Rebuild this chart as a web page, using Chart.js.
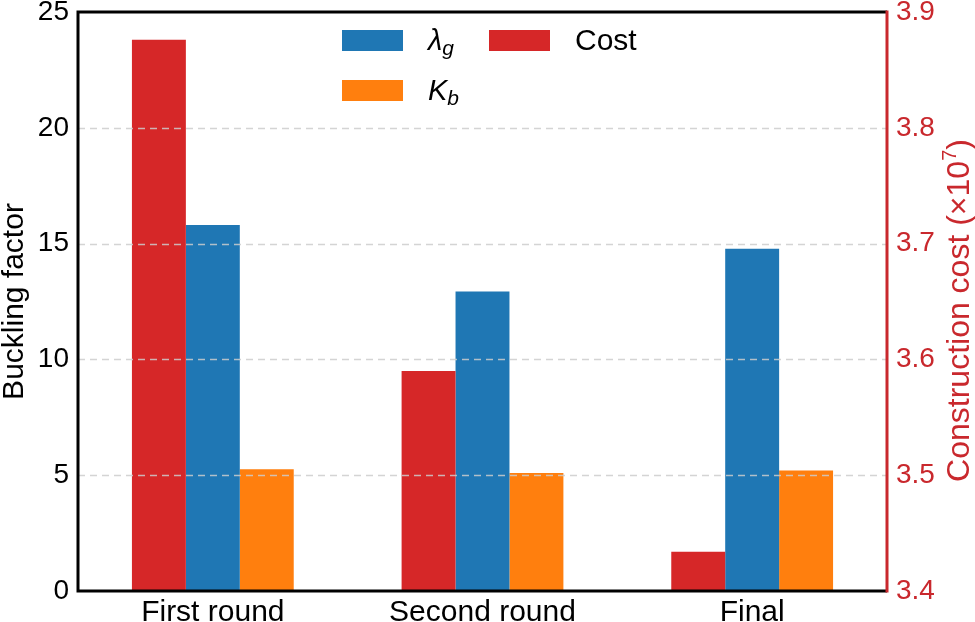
<!DOCTYPE html>
<html>
<head>
<meta charset="utf-8">
<script src="https://cdn.jsdelivr.net/npm/chart.js@4"></script>
<style>
	html, body { margin: 0; padding: 0; background: #fff; }
	#wrap { width: 975px; height: 622px; }
</style>
</head>
<body>
<div id="wrap"><canvas id="bucklingChart"></canvas></div>
<script>
const categories = ["First round", "Second round", "Final"];
const costValues = [3.876, 3.59, 3.434];
const lambdaValues = [15.8, 12.93, 14.78];
const kbValues = [5.26, 5.09, 5.2];
const leftTicks = [0, 5, 10, 15, 20, 25];
const rightTicks = [3.4, 3.5, 3.6, 3.7, 3.8, 3.9];

const blue = "#1f77b4";
const orange = "#ff7f0e";
const red = "#d62728";
const axisRed = "#c9282d";
const fontFamily = "'Liberation Sans', Arial, sans-serif";

const fixBox = (w, h) => (scale) => {
	if (w) scale.width = w;
	if (h) scale.height = h;
	scale.paddingTop = 0;
	scale.paddingBottom = 0;
	scale.paddingLeft = 0;
	scale.paddingRight = 0;
};

// grid over the bars, frame, right title and the two-column legend
const decorPlugin = {
	id: "decor",
	afterDatasetsDraw(chart) {
		const { ctx, chartArea, scales } = chart;
		ctx.save();
		ctx.strokeStyle = "rgba(205,205,205,0.85)";
		ctx.lineWidth = 1.5;
		ctx.setLineDash([7, 5]);
		leftTicks.slice(1, -1).forEach((v) => {
			const y = Math.round(scales.y.getPixelForValue(v)) + 0.5;
			ctx.beginPath();
			ctx.moveTo(chartArea.left, y);
			ctx.lineTo(chartArea.right, y);
			ctx.stroke();
		});
		ctx.setLineDash([]);
		ctx.lineWidth = 3;
		ctx.strokeStyle = "#000";
		ctx.beginPath();
		ctx.moveTo(chartArea.right, chartArea.top);
		ctx.lineTo(chartArea.left, chartArea.top);
		ctx.lineTo(chartArea.left, chartArea.bottom);
		ctx.lineTo(chartArea.right, chartArea.bottom);
		ctx.stroke();
		ctx.strokeStyle = axisRed;
		ctx.beginPath();
		ctx.moveTo(chartArea.right, chartArea.top - 1.5);
		ctx.lineTo(chartArea.right, chartArea.bottom + 1.5);
		ctx.stroke();

		// right axis title, reading bottom to top
		const mainTxt = "Construction cost (×10";
		const supTxt = "7";
		const endTxt = ")";
		ctx.font = "32px " + fontFamily;
		const w1 = ctx.measureText(mainTxt).width;
		const w3 = ctx.measureText(endTxt).width;
		ctx.font = "20px " + fontFamily;
		const w2 = ctx.measureText(supTxt).width;
		const total = w1 + w2 + w3;
		ctx.translate(969, (chartArea.top + chartArea.bottom) / 2 + 9);
		ctx.rotate(-Math.PI / 2);
		ctx.fillStyle = axisRed;
		ctx.textAlign = "left";
		ctx.textBaseline = "alphabetic";
		ctx.font = "32px " + fontFamily;
		ctx.fillText(mainTxt, -total / 2, 0);
		ctx.font = "20px " + fontFamily;
		ctx.fillText(supTxt, -total / 2 + w1, -13);
		ctx.font = "32px " + fontFamily;
		ctx.fillText(endTxt, -total / 2 + w1 + w2, 0);
		ctx.setTransform(1, 0, 0, 1, 0, 0);
		ctx.restore();
		ctx.save();

		// legend
		const items = [
			{ color: blue, main: "λ", sub: "g", x: 342, y: 30 },
			{ color: orange, main: "K", sub: "b", x: 342, y: 80 },
			{ color: red, main: "Cost", sub: "", x: 489, y: 30 },
		];
		items.forEach((it) => {
			ctx.fillStyle = it.color;
			ctx.fillRect(it.x, it.y, 61, 21);
			ctx.fillStyle = "#000";
			ctx.textBaseline = "alphabetic";
			ctx.textAlign = "left";
			const tx = it.x + 86;
			const base = it.y + 20;
			if (it.sub) {
				ctx.font = "italic 29px " + fontFamily;
				ctx.fillText(it.main, tx, base);
				const w = ctx.measureText(it.main).width;
				ctx.font = "italic 21px " + fontFamily;
				ctx.fillText(it.sub, tx + w, base + 5);
			} else {
				ctx.font = "30px " + fontFamily;
				ctx.fillText(it.main, tx, base);
			}
		});
		ctx.restore();
	},
};

new Chart(document.getElementById("bucklingChart"), {
	type: "bar",
	data: {
		labels: categories,
		datasets: [
			{
				label: "Cost",
				data: costValues,
				backgroundColor: red,
				yAxisID: "y1",
				base: rightTicks[0],
			},
			{
				label: "λg",
				data: lambdaValues,
				backgroundColor: blue,
				yAxisID: "y",
			},
			{
				label: "Kb",
				data: kbValues,
				backgroundColor: orange,
				yAxisID: "y",
			},
		],
	},
	options: {
		responsive: true,
		maintainAspectRatio: false,
		animation: false,
		layout: { padding: { top: 12, left: 0, right: 0, bottom: 0 } },
		datasets: {
			bar: { categoryPercentage: 0.6, barPercentage: 1.0, borderWidth: 0 },
		},
		plugins: {
			legend: { display: false },
			tooltip: { enabled: false },
		},
		scales: {
			x: {
				grid: { display: false, drawTicks: false },
				border: { display: false },
				ticks: {
					color: "#000",
					font: { family: fontFamily, size: 30 },
					padding: 4,
				},
				afterFit: fixBox(null, 31),
			},
			y: {
				position: "left",
				min: 0,
				max: 25,
				grid: { display: false, drawTicks: false },
				border: { display: false },
				afterBuildTicks: (scale) => {
					scale.ticks = leftTicks.map((v) => ({ value: v }));
				},
				ticks: {
					color: "#000",
					font: { family: fontFamily, size: 28 },
					padding: 9,
				},
				title: {
					display: true,
					text: "Buckling factor",
					color: "#000",
					font: { family: fontFamily, size: 30, lineHeight: 1.0 },
					padding: 0,
				},
				afterFit: fixBox(78, null),
			},
			y1: {
				position: "right",
				min: 3.4,
				max: 3.9,
				grid: { display: false, drawTicks: false },
				border: { display: false },
				afterBuildTicks: (scale) => {
					scale.ticks = rightTicks.map((v) => ({ value: v }));
				},
				ticks: {
					color: axisRed,
					font: { family: fontFamily, size: 28 },
					padding: 9,
					callback: (v) => Number(v).toFixed(1),
				},
				afterFit: fixBox(88, null),
			},
		},
	},
	plugins: [decorPlugin],
});
</script>
</body>
</html>
